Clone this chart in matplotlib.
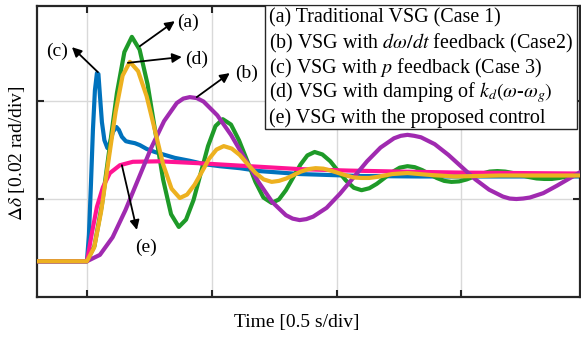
import matplotlib
matplotlib.use('Agg')
import matplotlib.pyplot as plt
from matplotlib.patches import Rectangle

# time in ms (0.5 s/div), angle deviation in mrad (0.02 rad/div)
t_a = [-200, 0, 30, 60, 90, 120, 150, 180, 211, 243, 274, 305, 337, 368, 397, 427, 456, 485, 515,
       544, 577, 609, 642, 675, 707, 740, 769, 797, 826, 855, 883, 912, 943, 975, 1006, 1037, 1069,
       1100, 1131, 1161, 1192, 1223, 1253, 1284, 1313, 1343, 1372, 1401, 1431, 1460, 1491, 1521,
       1552, 1583, 1613, 1644, 1675, 1707, 1738, 1769, 1801, 1832, 1862, 1892, 1922, 1952, 1982]
d_a = [7.3, 7.3, 10.4, 18.8, 30.2, 41.6, 50.0, 53.1, 50.5, 43.4, 33.7, 24.0, 16.9, 14.3, 15.8, 19.8,
       25.3, 30.8, 34.9, 36.3, 35.2, 32.0, 27.8, 23.5, 20.3, 19.2, 19.9, 21.8, 24.4, 27.0, 28.9,
       29.6, 29.1, 27.7, 25.7, 23.8, 22.3, 21.8, 22.2, 23.1, 24.3, 25.5, 26.4, 26.7, 26.5, 25.9,
       25.1, 24.3, 23.7, 23.5, 23.6, 24.0, 24.6, 25.2, 25.6, 25.7, 25.6, 25.3, 24.9, 24.5, 24.2,
       24.1, 24.1, 24.3, 24.6, 24.8, 25.0]

t_b = [-200, 0, 52, 103, 154, 206, 258, 309, 360, 386, 412, 440, 467, 522, 577, 632, 687, 742, 797,
       824, 852, 879, 906, 960, 1014, 1068, 1122, 1176, 1230, 1257, 1284, 1311, 1338, 1393, 1448,
       1502, 1556, 1611, 1666, 1693, 1720, 1747, 1774, 1828, 1882, 1936, 1990]
d_b = [7.3, 7.3, 8.6, 12.2, 17.7, 24.1, 30.5, 35.9, 39.6, 40.5, 40.8, 40.6, 39.9, 37.1, 33.1, 28.3,
       23.5, 19.4, 16.7, 16.0, 15.7, 15.9, 16.4, 18.2, 21.1, 24.4, 27.7, 30.5, 32.4, 32.9, 33.1,
       32.9, 32.6, 31.2, 29.0, 26.5, 24.0, 21.9, 20.5, 20.1, 20.0, 20.1, 20.3, 21.2, 22.7, 24.3,
       25.9]

t_c = [-200, 0, 8, 16, 24, 32, 40, 46, 52, 60, 70, 82, 92, 104, 118, 128, 140, 156, 172, 192, 212,
       240, 272, 312, 352, 412, 472, 532, 612, 692, 772, 852, 972, 1092, 1332, 1652, 1972]
d_c = [7.3, 7.3, 12.7, 22.9, 34.1, 42.2, 45.7, 45.5, 41.2, 35.7, 32.0, 30.4, 31.4, 33.7, 34.7, 34.1,
       32.7, 31.8, 31.6, 31.4, 31.0, 30.2, 29.6, 29.0, 28.4, 27.8, 27.1, 26.7, 26.3, 25.7, 25.4,
       25.1, 24.9, 24.7, 24.6, 24.6, 24.6]

t_d = [-200, 0, 29, 57, 86, 115, 143, 172, 205, 239, 272, 305, 339, 372, 401, 431, 460, 489, 519,
       548, 580, 612, 644, 676, 708, 740, 769, 799, 828, 857, 887, 916, 947, 977, 1008, 1039, 1069,
       1100, 1131, 1161, 1192, 1223, 1253, 1284, 1378, 1472, 1652, 1972]
d_d = [7.3, 7.3, 10.1, 17.5, 27.7, 37.8, 45.2, 48.0, 46.1, 41.0, 34.1, 27.1, 22.1, 20.2, 20.9, 22.9,
       25.5, 28.2, 30.1, 30.8, 30.3, 29.0, 27.1, 25.3, 24.0, 23.5, 23.7, 24.2, 24.9, 25.6, 26.1,
       26.3, 26.2, 25.8, 25.3, 24.8, 24.4, 24.3, 24.3, 24.5, 24.8, 25.1, 25.2, 25.3, 24.9, 24.6,
       24.8, 24.8]

t_e = [-200, 0, 8, 20, 40, 64, 92, 132, 184, 292, 452, 652, 852, 1052, 1252, 1492, 1732, 1972]
d_e = [7.3, 7.3, 9.6, 13.1, 18.4, 22.4, 25.3, 26.9, 27.6, 27.7, 27.3, 26.7, 26.1, 25.8, 25.6, 25.4,
       25.3, 25.2]

legend_lines = [
    '(a) Traditional VSG (Case 1)',
    '(b) VSG with $d\\omega/dt$ feedback (Case2)',
    '(c) VSG with $p$ feedback (Case 3)',
    '(d) VSG with damping of $k_d(\\omega$-$\\omega_g)$',
    '(e) VSG with the proposed control',
]

plt.rcParams['font.family'] = ['Liberation Serif', 'DejaVu Serif']
plt.rcParams['mathtext.fontset'] = 'stix'

W, H = 581, 337
fig = plt.figure(figsize=(W / 100, H / 100), dpi=100)
ax = fig.add_axes([37 / W, 40 / H, 543 / W, 291 / H])

style = dict(lw=3.0, solid_joinstyle='round', solid_capstyle='round')
ax.plot(t_c, d_c, color='#0072BD', zorder=2, **style)
ax.plot(t_a, d_a, color='#1E9A28', zorder=3, **style)
ax.plot(t_e, d_e, color='#FF1493', zorder=4, **style)
ax.plot(t_b, d_b, color='#A02AB0', zorder=5, **style)
ax.plot(t_d, d_d, color='#EDB120', zorder=6, **style)

ax.set_xlim(-200, 1975)
ax.set_ylim(0, 59.4)
ax.set_xticks([0, 500, 1000, 1500])
ax.set_yticks([20, 40])
ax.set_xticklabels([])
ax.set_yticklabels([])
ax.grid(True, color='#d9d9d9', lw=1.0)
ax.set_axisbelow(True)
ax.tick_params(direction='in', length=5, width=1.5, top=True, right=True, color='#262626')
for s in ax.spines.values():
    s.set_linewidth(1.6)
    s.set_color('#262626')

# curve labels with arrows
arrows = [
    ('(a)', (404, 56.1), (352, 56.3), (212, 51.2)),
    ('(d)', (440, 48.6), (380, 49.0), (164, 47.8)),
    ('(c)', (-120, 50.2), (-60, 51.0), (44, 45.9)),
    ('(b)', (640, 45.7), (572, 45.7), (440, 40.8)),
    ('(e)', (236, 10.2), (200, 13.7), (140, 26.9)),
]
for lab, txt, head, tail in arrows:
    ax.annotate('', xy=head, xytext=tail, zorder=8,
                arrowprops=dict(arrowstyle='-|>', color='black', lw=1.3,
                                mutation_scale=14, shrinkA=0, shrinkB=0))
    ax.text(txt[0], txt[1], lab, fontsize=14, ha='center', va='center', zorder=8)

# legend box (text only, no line handles)
bx0, bx1, by0, by1 = 265, 577, 5, 129
ax.add_patch(Rectangle(((bx0 - 37) / 543, (297 - by1) / 291), (bx1 - bx0) / 543,
                       (by1 - by0) / 291, transform=ax.transAxes, fc='white',
                       ec='#262626', lw=1.0, zorder=9))
for i, line in enumerate(legend_lines):
    yc = 18 + 25 * i
    ax.text((269 - 37) / 543, (297 - yc) / 291, line, transform=ax.transAxes,
            fontsize=14.4, ha='left', va='center', zorder=10)

fig.text(297 / W, 1 - 322 / H, 'Time [0.5 s/div]', fontsize=14, ha='center', va='center')
fig.text(17 / W, 1 - 153 / H, '$\\Delta\\delta$ [0.02 rad/div]', fontsize=14,
         ha='center', va='center', rotation=90)

fig.savefig('out.png', dpi=100)
